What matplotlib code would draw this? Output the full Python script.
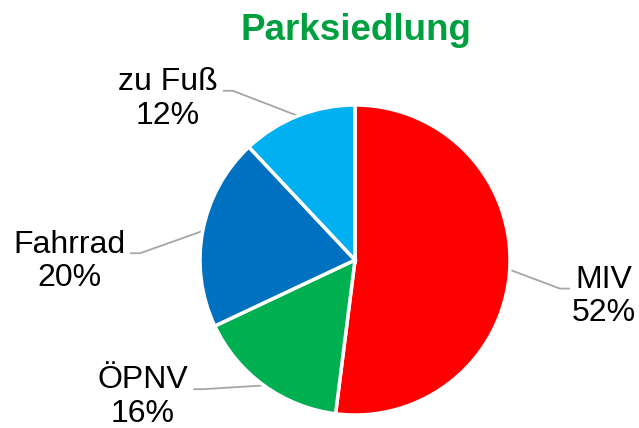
import numpy as np
import matplotlib
matplotlib.use("Agg")
import matplotlib.pyplot as plt

plt.rcParams['font.family'] = ['Liberation Sans', 'DejaVu Sans']

labels = ["MIV", "ÖPNV", "Fahrrad", "zu Fuß"]
shares = [52, 16, 20, 12]
colors = ["#FF0000", "#00B050", "#0070C0", "#00B0F0"]
# label centres (in pie radii, relative to pie centre)
label_pos = [(1.606, -0.236), (-1.368, -0.885), (-1.845, -0.008), (-1.206, 1.04)]


def main():
    fig = plt.figure(figsize=(6.39, 4.28), dpi=100)
    ax = fig.add_axes([0, 0, 1, 1])
    wedges, _ = ax.pie(shares, colors=colors, startangle=90, counterclock=False,
                       radius=1.0, wedgeprops=dict(edgecolor="white", linewidth=2.5))

    # pixel mapping: centre (355, 260), radius 155 px
    ax.set_xlim(-355 / 155, (639 - 355) / 155)
    ax.set_ylim(-(428 - 260) / 155, 260 / 155)
    ax.set_aspect("auto")
    ax.axis("off")

    texts = []
    for lab, val, pos in zip(labels, shares, label_pos):
        t = ax.text(pos[0], pos[1], f"{lab}\n{val}%", ha="center", va="center",
                    fontsize=23, linespacing=1.15)
        texts.append(t)

    fig.canvas.draw()
    renderer = fig.canvas.get_renderer()
    inv = ax.transData.inverted()
    for w, t in zip(wedges, texts):
        ang = np.deg2rad((w.theta1 + w.theta2) / 2)
        p0 = (np.cos(ang), np.sin(ang))
        bb = t.get_window_extent(renderer)
        ymid = (bb.y0 + bb.y1) / 2 + 8
        if p0[0] > 0:
            end_px = (bb.x0 - 2, ymid)
            knee_px = (bb.x0 - 12, ymid)
        else:
            end_px = (bb.x1 + 5, ymid)
            knee_px = (bb.x1 + 15, ymid)
        end = inv.transform(end_px)
        knee = inv.transform(knee_px)
        ax.plot([p0[0], knee[0], end[0]], [p0[1], knee[1], end[1]],
                color="#A6A6A6", lw=1.3, solid_capstyle="butt", zorder=0)

    fig.text(356 / 639, 1 - 30 / 428, "Parksiedlung", ha="center", va="center",
             fontsize=26.5, fontweight="bold", color="#00A040")
    fig.savefig("out.png", dpi=100)


if __name__ == "__main__":
    main()
